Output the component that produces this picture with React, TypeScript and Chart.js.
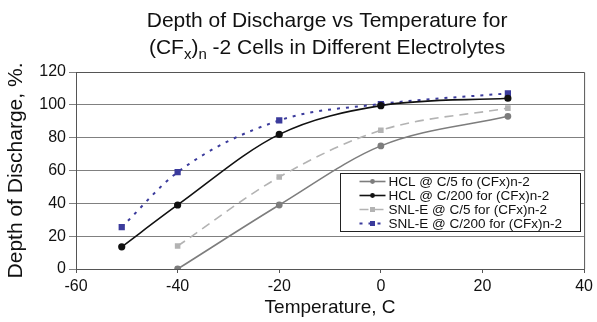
import React, { useEffect, useRef } from "react";
import { Chart, registerables } from "chart.js";

Chart.register(...registerables);

const seriesNames = [
  "HCL @ C/5 fo (CFx)n-2",
  "HCL @ C/200 for (CFx)n-2",
  "SNL-E @ C/5 for (CFx)n-2",
  "SNL-E @ C/200 for (CFx)n-2",
];
const hclC5Temps = [-40, -20, 0, 25];
const hclC5Values = [0, 39, 75, 93];
const hclC200Temps = [-51, -40, -20, 0, 25];
const hclC200Values = [13.5, 39, 82, 99.5, 104];
const snlC5Temps = [-40, -20, 0, 25];
const snlC5Values = [14, 56, 84.5, 98];
const snlC200Temps = [-51, -40, -20, 0, 25];
const snlC200Values = [25.5, 59, 90.5, 100.5, 107];
const xTicks = [-60, -40, -20, 0, 20, 40];
const yTicks = [0, 20, 40, 60, 80, 100, 120];

const FONT = "'Liberation Sans', Arial, sans-serif";

const toPoints = (xs: number[], ys: number[]) => xs.map((x, i) => ({ x, y: ys[i] }));

const titlePlugin = {
  id: "subTitle",
  afterDraw(chart: any) {
    const ctx = chart.ctx;
    const cx = (chart.chartArea.left + chart.chartArea.right) / 2 - 3;
    ctx.save();
    ctx.fillStyle = "#111";
    ctx.textBaseline = "alphabetic";
    ctx.textAlign = "left";
    const big = `21px ${FONT}`;
    const small = `15px ${FONT}`;
    ctx.font = big;
    const l1 = "Depth of Discharge vs Temperature for";
    const w1 = ctx.measureText(l1).width;
    ctx.fillText(l1, cx - w1 / 2, 27);
    const segs: [string, boolean][] = [
      ["(CF", false],
      ["x", true],
      [")", false],
      ["n", true],
      [" -2 Cells in Different Electrolytes", false],
    ];
    let total = 0;
    for (const [t, sub] of segs) {
      ctx.font = sub ? small : big;
      total += ctx.measureText(t).width;
    }
    let x = cx - total / 2;
    const base = 54;
    for (const [t, sub] of segs) {
      ctx.font = sub ? small : big;
      ctx.fillText(t, x, sub ? base + 5 : base);
      x += ctx.measureText(t).width;
    }
    ctx.restore();
  },
};

const framePlugin = {
  id: "frame",
  afterDatasetsDraw(chart: any) {
    const { ctx, chartArea: a } = chart;
    ctx.save();
    ctx.strokeStyle = "#555";
    ctx.lineWidth = 1;
    ctx.beginPath();
    ctx.moveTo(a.left, a.top + 0.5);
    ctx.lineTo(a.right + 0.5, a.top + 0.5);
    ctx.lineTo(a.right + 0.5, a.bottom);
    ctx.stroke();
    ctx.restore();
  },
};

const legendPlugin = {
  id: "boxLegend",
  afterDraw(chart: any) {
    const { ctx, chartArea: a } = chart;
    const bx = Math.round(a.right - 244) + 0.5;
    const by = Math.round(a.top + 101) + 0.5;
    const bw = 240;
    const bh = 58;
    ctx.save();
    ctx.fillStyle = "#fff";
    ctx.fillRect(bx, by, bw, bh);
    ctx.strokeStyle = "#222";
    ctx.lineWidth = 1;
    ctx.strokeRect(bx, by, bw, bh);
    chart.data.datasets.forEach((ds: any, i: number) => {
      const y = by + 8 + i * 14;
      const x0 = bx + 19;
      const x1 = bx + 45;
      ctx.save();
      ctx.strokeStyle = ds.borderColor;
      ctx.lineWidth = ds.borderWidth;
      ctx.setLineDash(ds.borderDash || []);
      ctx.beginPath();
      ctx.moveTo(x0, y);
      ctx.lineTo(x1, y);
      ctx.stroke();
      ctx.setLineDash([]);
      ctx.fillStyle = ds.pointBackgroundColor;
      const mx = (x0 + x1) / 2;
      if (ds.pointStyle === "rect") {
        ctx.fillRect(mx - 2.5, y - 2.5, 5, 5);
      } else {
        ctx.beginPath();
        ctx.arc(mx, y, 2.4, 0, Math.PI * 2);
        ctx.fill();
      }
      ctx.restore();
      ctx.fillStyle = "#111";
      ctx.font = `13.5px ${FONT}`;
      ctx.textBaseline = "middle";
      ctx.textAlign = "left";
      ctx.fillText(ds.label, x1 + 3, y + 1);
    });
    ctx.restore();
  },
};

export default function App() {
  const ref = useRef<HTMLCanvasElement>(null);
  useEffect(() => {
    document.body.style.margin = "0";
    const canvas = ref.current!;
    const chart = new Chart(canvas, {
      type: "line",
      data: {
        datasets: [
          {
            label: seriesNames[0],
            data: toPoints(hclC5Temps, hclC5Values),
            borderColor: "#7d7d7d",
            backgroundColor: "#7d7d7d",
            pointBackgroundColor: "#7d7d7d",
            pointBorderColor: "#7d7d7d",
            pointStyle: "circle",
            pointRadius: 2.6,
            borderWidth: 1.6,
            cubicInterpolationMode: "monotone",
          },
          {
            label: seriesNames[1],
            data: toPoints(hclC200Temps, hclC200Values),
            borderColor: "#111111",
            backgroundColor: "#111111",
            pointBackgroundColor: "#111111",
            pointBorderColor: "#111111",
            pointStyle: "circle",
            pointRadius: 2.8,
            borderWidth: 1.6,
            cubicInterpolationMode: "monotone",
          },
          {
            label: seriesNames[2],
            data: toPoints(snlC5Temps, snlC5Values),
            borderColor: "#b3b3b3",
            backgroundColor: "#b3b3b3",
            pointBackgroundColor: "#b3b3b3",
            pointBorderColor: "#b3b3b3",
            pointStyle: "rect",
            pointRadius: 2.8,
            borderWidth: 1.6,
            borderDash: [9, 6],
            cubicInterpolationMode: "monotone",
          },
          {
            label: seriesNames[3],
            data: toPoints(snlC200Temps, snlC200Values),
            borderColor: "#3b3b9c",
            backgroundColor: "#3b3b9c",
            pointBackgroundColor: "#3b3b9c",
            pointBorderColor: "#3b3b9c",
            pointStyle: "rect",
            pointRadius: 3,
            borderWidth: 2,
            borderDash: [3, 6],
            cubicInterpolationMode: "monotone",
          },
        ],
      },
      options: {
        responsive: false,
        animation: false,
        layout: { padding: { top: 72, right: 10, left: 0, bottom: 0 } },
        plugins: {
          legend: { display: false },
          title: { display: false },
          tooltip: { enabled: false },
        },
        scales: {
          x: {
            type: "linear",
            min: -60,
            max: 40,
            afterBuildTicks: (s: any) => {
              s.ticks = xTicks.map((v) => ({ value: v }));
            },
            afterFit: (s: any) => {
              s.height = 53;
            },
            grid: {
              drawOnChartArea: false,
              drawTicks: true,
              tickLength: 4,
              color: "#555",
            },
            border: { display: true, color: "#555", width: 1 },
            ticks: {
              color: "#111",
              font: { family: FONT, size: 16 },
              padding: 4,
              maxRotation: 0,
            },
            title: {
              display: true,
              text: "Temperature, C",
              color: "#111",
              font: { family: FONT, size: 19 },
              padding: { top: 0, bottom: 3 },
            },
          },
          y: {
            type: "linear",
            min: 0,
            max: 120,
            afterBuildTicks: (s: any) => {
              s.ticks = yTicks.map((v) => ({ value: v }));
            },
            afterFit: (s: any) => {
              s.width = 76;
            },
            grid: {
              drawOnChartArea: true,
              drawTicks: true,
              tickLength: 7,
              color: "#808080",
            },
            border: { display: true, color: "#555", width: 1 },
            ticks: {
              color: "#111",
              font: { family: FONT, size: 16 },
              padding: 3,
            },
            title: {
              display: true,
              text: "Depth of Discharge, %.",
              color: "#111",
              font: { family: FONT, size: 21 },
              padding: { top: 4, bottom: 0 },
            },
          },
        },
      },
      plugins: [framePlugin, legendPlugin, titlePlugin],
    } as any);
    return () => chart.destroy();
  }, []);
  return (
    <div style={{ position: "absolute", left: 0, top: 0, width: 597, height: 322, background: "#fff" }}>
      <canvas ref={ref} width={597} height={322} />
    </div>
  );
}
